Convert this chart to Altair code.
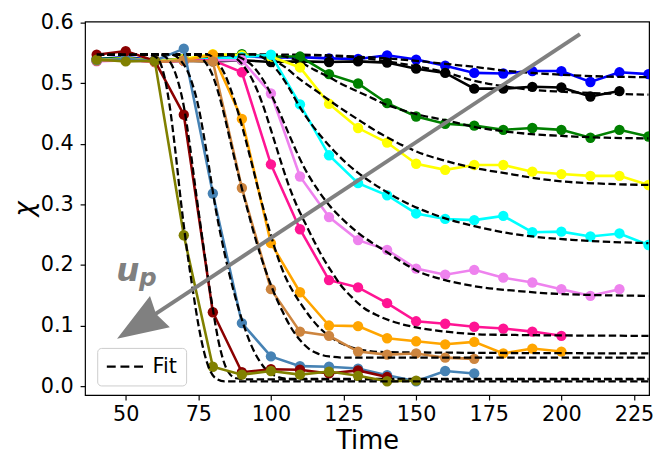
import altair as alt
import pandas as pd

# ---------------- data ----------------
time = [40, 50, 60, 70, 80, 90, 100, 110, 120, 130, 140, 150, 160, 170,
        180, 190, 200, 210, 220, 230]

chi_blue = [0.540, 0.543, 0.538, 0.540, 0.541, 0.545, 0.542, 0.543, 0.541, 0.540,
            0.546, 0.539, 0.529, 0.517, 0.516, 0.520, 0.520, 0.502, 0.518, 0.515]
chi_black = [0.538, 0.540, 0.536, 0.537, 0.536, 0.538, 0.535, 0.536, 0.535, 0.536,
             0.534, 0.524, 0.517, 0.491, 0.491, 0.494, 0.493, 0.478, 0.487]
chi_green = [0.540, 0.542, 0.537, 0.540, 0.545, 0.548, 0.544, 0.544, 0.515, 0.4995,
             0.467, 0.445, 0.433, 0.430, 0.423, 0.426, 0.423, 0.410, 0.423, 0.412]
chi_yellow = [0.538, 0.541, 0.537, 0.540, 0.548, 0.546, 0.544, 0.526, 0.466, 0.426,
              0.402, 0.367, 0.357, 0.365, 0.365, 0.354, 0.350, 0.347, 0.347, 0.332]
chi_cyan = [0.537, 0.539, 0.536, 0.538, 0.540, 0.543, 0.547, 0.465, 0.381, 0.335,
            0.315, 0.285, 0.276, 0.274, 0.281, 0.254, 0.255, 0.247, 0.252, 0.233]
chi_violet = [0.536, 0.538, 0.535, 0.537, 0.538, 0.538, 0.483, 0.346, 0.279, 0.241,
              0.225, 0.194, 0.184, 0.192, 0.179, 0.171, 0.160, 0.149, 0.160]
chi_deeppink = [0.537, 0.539, 0.535, 0.537, 0.538, 0.518, 0.366, 0.259, 0.175, 0.163,
                0.137, 0.107, 0.103, 0.098, 0.095, 0.090, 0.083]
chi_orange = [0.538, 0.540, 0.536, 0.538, 0.547, 0.441, 0.236, 0.155, 0.100, 0.099,
              0.079, 0.074, 0.069, 0.073, 0.054, 0.062, 0.057]
chi_peru = [0.537, 0.539, 0.535, 0.537, 0.536, 0.327, 0.160, 0.090, 0.083, 0.057,
            0.052, 0.054, 0.047, 0.045]
chi_steelblue = [0.538, 0.540, 0.537, 0.557, 0.318, 0.104, 0.049, 0.033, 0.032, 0.029,
                 0.018, 0.008, 0.025, 0.021]
chi_darkred = [0.547, 0.553, 0.537, 0.448, 0.122, 0.023, 0.028, 0.027, 0.021, 0.026,
               0.015]
chi_olive = [0.539, 0.536, 0.537, 0.249, 0.032, 0.019, 0.025, 0.019, 0.024, 0.017,
             0.008, 0.009]

# fitted curves (dashed)
fit_blue_t = [40, 110, 133, 145, 160, 170, 180, 190, 200, 215, 230]
fit_blue = [0.547, 0.547, 0.543, 0.539, 0.532, 0.527, 0.521, 0.517, 0.514, 0.511, 0.510]
fit_black_t = [40, 115, 125, 133, 140, 150, 160, 170, 180, 190, 200, 215, 230]
fit_black = [0.547, 0.546, 0.544, 0.541, 0.536, 0.528, 0.518, 0.504, 0.495, 0.489,
             0.486, 0.483, 0.481]
fit_green_t = [40, 100, 105, 110, 115, 120, 125, 130, 135, 140, 145, 150, 160, 170,
               185, 200, 215, 230]
fit_green = [0.547, 0.547, 0.544, 0.535, 0.522, 0.510, 0.497, 0.486, 0.475, 0.464,
             0.456, 0.449, 0.439, 0.428, 0.418, 0.413, 0.410, 0.409]
fit_yellow_t = [40, 95, 100, 105, 109, 116, 123, 130, 138, 146, 153, 160, 170, 180,
                190, 200, 215, 230]
fit_yellow = [0.547, 0.547, 0.540, 0.526, 0.510, 0.486, 0.462, 0.440, 0.416, 0.396,
              0.382, 0.372, 0.360, 0.352, 0.344, 0.338, 0.334, 0.332]
fit_cyan_t = [40, 94, 98, 102, 106, 110, 114, 118, 122, 126, 130, 135, 140, 146, 152,
              160, 170, 180, 190, 205, 230]
fit_cyan = [0.547, 0.547, 0.540, 0.522, 0.494, 0.460, 0.432, 0.408, 0.387, 0.368,
            0.352, 0.335, 0.320, 0.304, 0.291, 0.277, 0.264, 0.254, 0.247, 0.241, 0.236]
fit_violet_t = [40, 86, 90, 94, 98, 102, 106, 109, 112, 116, 120, 125, 130, 135, 140,
                145, 150, 160, 170, 185, 200, 230]
fit_violet = [0.547, 0.547, 0.541, 0.527, 0.500, 0.462, 0.418, 0.385, 0.356, 0.325,
              0.299, 0.274, 0.253, 0.236, 0.221, 0.205, 0.191, 0.175, 0.165, 0.157,
              0.152, 0.149]
fit_deeppink_t = [40, 85, 88, 91, 94, 97, 100, 103, 106, 109, 112, 115, 118, 121, 124,
                  128, 132, 137, 143, 150, 160, 175, 230]
fit_deeppink = [0.547, 0.547, 0.541, 0.526, 0.502, 0.467, 0.423, 0.377, 0.333, 0.297,
                0.267, 0.238, 0.211, 0.188, 0.167, 0.146, 0.129, 0.116, 0.105, 0.097,
                0.090, 0.085, 0.083]
fit_orange_t = [40, 78, 81, 84, 87, 90, 93, 96, 99, 102, 105, 108, 111, 114, 117, 120,
                125, 130, 140, 230]
fit_orange = [0.547, 0.547, 0.538, 0.516, 0.478, 0.430, 0.375, 0.318, 0.265, 0.218,
              0.180, 0.153, 0.131, 0.111, 0.095, 0.083, 0.069, 0.061, 0.056, 0.054]
fit_peru_t = [40, 74, 77, 80, 83, 86, 89, 92, 95, 98, 101, 104, 107, 110, 113, 116,
              120, 126, 230]
fit_peru = [0.547, 0.547, 0.537, 0.512, 0.465, 0.405, 0.345, 0.290, 0.238, 0.193,
            0.155, 0.123, 0.096, 0.076, 0.062, 0.054, 0.049, 0.047, 0.047]
fit_steelblue_t = [40, 66, 69, 72, 75, 78, 81, 84, 87, 90, 93, 96, 99, 102, 106, 230]
fit_steelblue = [0.547, 0.547, 0.537, 0.512, 0.462, 0.382, 0.292, 0.220, 0.160, 0.110,
                 0.070, 0.042, 0.024, 0.016, 0.012, 0.012]
fit_darkred_t = [40, 62, 65, 68, 70, 72, 74, 76, 78, 80, 82, 84, 86, 88, 92, 230]
fit_darkred = [0.547, 0.547, 0.537, 0.503, 0.462, 0.400, 0.327, 0.257, 0.190, 0.127,
               0.073, 0.037, 0.019, 0.013, 0.011, 0.011]
fit_olive_t = [40, 58, 61, 63, 65, 67, 69, 71, 73, 75, 77, 79, 81, 84, 230]
fit_olive = [0.547, 0.547, 0.541, 0.517, 0.467, 0.392, 0.305, 0.228, 0.162, 0.102,
             0.056, 0.026, 0.013, 0.008, 0.008]

series_names = ["blue", "black", "green", "yellow", "cyan", "violet", "deeppink",
                "orange", "peru", "steelblue", "darkred", "olive"]
series_colors = ["#0000ff", "#000000", "#008000", "#ffff00", "#00ffff", "#ee82ee",
                 "#ff1493", "#ffa500", "#cd853f", "#4682b4", "#8b0000", "#808000"]
series_values = [chi_blue, chi_black, chi_green, chi_yellow, chi_cyan, chi_violet,
                 chi_deeppink, chi_orange, chi_peru, chi_steelblue, chi_darkred, chi_olive]
fit_times = [fit_blue_t, fit_black_t, fit_green_t, fit_yellow_t, fit_cyan_t,
             fit_violet_t, fit_deeppink_t, fit_orange_t, fit_peru_t, fit_steelblue_t,
             fit_darkred_t, fit_olive_t]
fit_values = [fit_blue, fit_black, fit_green, fit_yellow, fit_cyan, fit_violet,
              fit_deeppink, fit_orange, fit_peru, fit_steelblue, fit_darkred, fit_olive]

# arrow annotation (data coordinates) and its label
arrow_t = [206.4, 54.4]
arrow_chi = [0.581, 0.1006]
arrow_head_t = [54.4]
arrow_head_chi = [0.1006]
label_u_t = [50.7]
label_u_chi = [0.173]
label_p_t = [57.6]
label_p_chi = [0.165]

FONT = "DejaVu Sans"

x_enc = alt.X(
    "t:Q",
    scale=alt.Scale(domain=[36, 230.2], nice=False, zero=False),
    axis=alt.Axis(values=[50, 75, 100, 125, 150, 175, 200, 225], labelPadding=4,
                  titlePadding=3),
    title="Time",
)
y_enc = alt.Y(
    "chi:Q",
    scale=alt.Scale(domain=[-0.0147, 0.6016], nice=False, zero=False),
    axis=alt.Axis(values=[0, 0.1, 0.2, 0.3, 0.4, 0.5, 0.6], format=".1f",
                  labelPadding=7, titleAngle=270, titleX=-61, titleY=189,
                  titleAlign="center", titleBaseline="middle",
                  titleFontStyle="italic", titleFontSize=26),
    title="χ",
)

fit_legend = alt.Legend(
    title=None, orient="none", legendX=12.3, legendY=330.3, padding=8.4,
    symbolType="M-2,0L2,0", symbolSize=335, symbolOffset=9.15,
    symbolStrokeWidth=2.3, symbolDash=[9, 4.8], symbolStrokeColor="black",
    symbolFillColor="transparent", labelFont=FONT, labelFontSize=21,
    labelColor="black", labelOffset=17.5, fillColor="rgba(255,255,255,0.8)",
    strokeColor="#cccccc", cornerRadius=4,
)

layers = []
for name, color, vals, ft, fv in zip(series_names, series_colors, series_values,
                                     fit_times, fit_values):
    d = pd.DataFrame({"t": time[:len(vals)], "chi": vals})
    base = alt.Chart(d).encode(x=x_enc, y=y_enc)
    layers.append(base.mark_line(color=color, strokeWidth=2.6, clip=True))
    layers.append(base.mark_circle(color=color, size=110, opacity=1, clip=True))
    f = pd.DataFrame({"t": ft, "chi": fv, "kind": ["Fit"] * len(ft)})
    layers.append(
        alt.Chart(f)
        .mark_line(strokeWidth=2.3, strokeDash=[7.5, 3.5], interpolate="monotone",
                   clip=True)
        .encode(
            x=x_enc, y=y_enc,
            stroke=alt.Stroke("kind:N",
                              scale=alt.Scale(domain=["Fit"], range=["black"]),
                              legend=fit_legend),
        )
    )

arrow_df = pd.DataFrame({"t": arrow_t, "chi": arrow_chi})
layers.append(
    alt.Chart(arrow_df).mark_line(color="#808080", strokeWidth=4)
    .encode(x=x_enc, y=y_enc)
)
head_df = pd.DataFrame({"t": arrow_head_t, "chi": arrow_head_chi})
layers.append(
    alt.Chart(head_df)
    .mark_point(shape="M0,-1L0.73,1L0,0.82L-0.73,1Z", size=2642, angle=237.6,
                filled=True, color="#808080", opacity=1, strokeWidth=0)
    .encode(x=x_enc, y=y_enc)
)
u_df = pd.DataFrame({"t": label_u_t, "chi": label_u_chi, "txt": ["u"]})
layers.append(
    alt.Chart(u_df)
    .mark_text(font=FONT, fontSize=33, fontStyle="italic", fontWeight="bold",
               color="#808080", align="center", baseline="alphabetic")
    .encode(x=x_enc, y=y_enc, text="txt:N")
)
p_df = pd.DataFrame({"t": label_p_t, "chi": label_p_chi, "txt": ["p"]})
layers.append(
    alt.Chart(p_df)
    .mark_text(font=FONT, fontSize=25, fontStyle="italic", fontWeight="bold",
               color="#808080", align="center", baseline="alphabetic")
    .encode(x=x_enc, y=y_enc, text="txt:N")
)

chart = (
    alt.layer(*layers)
    .properties(width=571, height=378, autosize=alt.AutoSizeParams(type="none"),
                padding={"left": 78, "top": 11, "right": 7, "bottom": 67},
                background="white")
    .configure_axis(labelFont=FONT, labelFontSize=21, labelColor="black",
                    titleFont=FONT, titleFontSize=26, titleFontWeight="normal",
                    titleColor="black", tickColor="black", tickWidth=1.2, tickSize=5,
                    domain=False, grid=False)
    .configure_view(stroke="black", strokeWidth=1.2)
)

chart.save("out.html", embed_options={"renderer": "svg", "actions": False})
